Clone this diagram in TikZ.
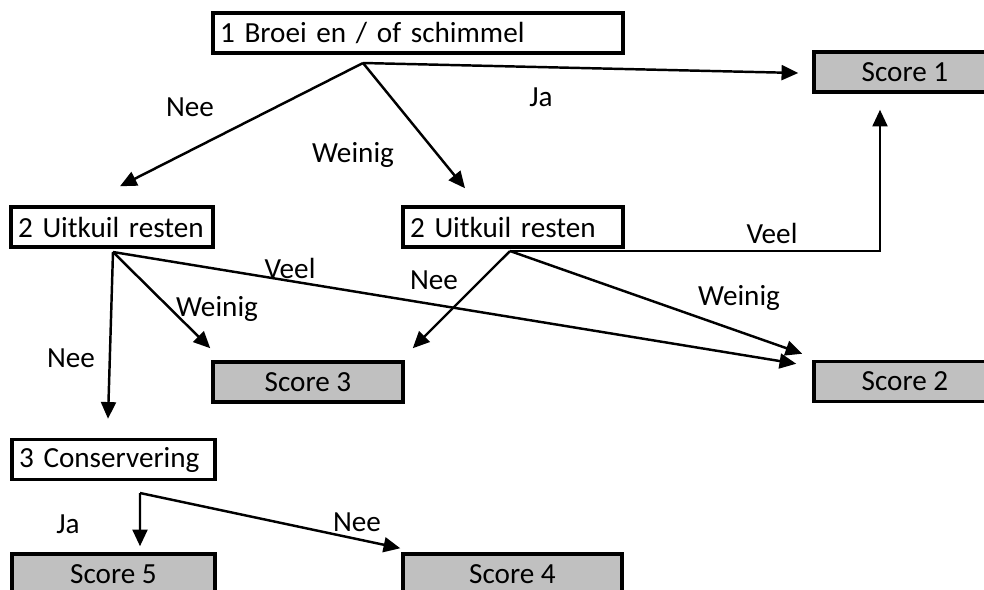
\documentclass[tikz,border=0pt]{standalone}
\usepackage{fontspec}
\setmainfont{Carlito}
\usetikzlibrary{calc,arrows.meta}
\definecolor{scoregray}{RGB}{192,192,192}

\begin{document}
\begin{tikzpicture}[x=0.02cm, y=-0.02cm,
        font=\fontsize{16.6}{19}\selectfont,
        vraag/.style={draw, line width=2pt, fill=white, minimum height=0.8cm,
            inner xsep=0.14cm, text width=#1, align=left},
        score/.style={draw, line width=2pt, fill=scoregray, minimum height=0.8cm,
            minimum width=#1},
        pijl/.style={line width=1.4pt, -{Triangle[length=9.5pt,width=8.5pt]}},
        keuze/.style={inner sep=0pt}]

    \useasboundingbox (0,0) rectangle (984,589);

    % Vragen (witte blokken)
    \node[vraag=7.92cm] (vraag1) at (418,33) {1 Broei en / of schimmel};
    \node[vraag=3.76cm] (vraag2a) at (112,227) {2 Uitkuil resten};
    \node[vraag=4.12cm] (vraag2b) at (513,227) {2 Uitkuil resten};
    \node[vraag=3.78cm] (vraag3) at (113.5,459.5) {3 Conservering};

    % Scores (grijze blokken)
    \node[score=3.64cm] (score1) at (905,72) {Score 1};
    \node[score=3.64cm] (score2) at (905,381.5) {Score 2};
    \node[score=3.8cm] (score3) at (308,382) {Score 3};
    \node[score=4.38cm] (score4) at (512.5,574) {Score 4};
    \node[score=4.06cm] (score5) at (113.5,574) {Score 5};

    % Vertrekpunten onder de vragen
    \coordinate (split1) at (363,63);
    \coordinate (split2) at (113,252);
    \coordinate (split3) at (510,251);
    \coordinate (split4) at (140,493);

    % Pijlpunten vlak voor de doelblokken
    \coordinate (tip1ja) at ($(score1.west)+(-14,1)$);
    \coordinate (tip1nee) at ($(vraag2a.north)+(8,-19)$);
    \coordinate (tip1weinig) at ($(vraag2b.north)+(-48,-17)$);
    \coordinate (tip2nee) at ($(vraag3.north)+(-5.5,-19)$);
    \coordinate (tip2weinig) at ($(score3.north west)+(-1,-12)$);
    \coordinate (tip2veel) at ($(score2.north west)+(-16,4)$);
    \coordinate (tip3veel) at ($(score1.south)+(-25,16)$);
    \coordinate (tip3nee) at ($(score3.north east)+(8,-12)$);
    \coordinate (tip3weinig) at ($(score2.north west)+(-10,-6)$);
    \coordinate (tip4ja) at ($(score5.north)+(26.5,-6)$);
    \coordinate (tip4nee) at ($(score4.north west)+(-1,-4)$);

    \begin{scope}[pijl]
        \draw (split1) -- (tip1ja);
        \draw (split1) -- (tip1nee);
        \draw (split1) -- (tip1weinig);

        \draw (split2) -- (tip2nee);
        \draw (split2) -- (tip2weinig);
        \draw (split2) -- (tip2veel);

        \draw (split3) -- (tip3veel |- split3) -- (tip3veel);
        \draw (split3) -- (tip3nee);
        \draw (split3) -- (tip3weinig);

        \draw (split4) -- (tip4ja);
        \draw (split4) -- (tip4nee);
    \end{scope}

    % Antwoorden bij de pijlen
    \node[keuze] (ja1) at (541,97) {Ja};
    \node[keuze] (nee1) at (190,107) {Nee};
    \node[keuze] (weinig1) at (353,155) {Weinig};
    \node[keuze] (veel3) at (772,233) {Veel};
    \node[keuze] (nee3) at (434,280) {Nee};
    \node[keuze] (weinig3) at (739,298) {Weinig};
    \node[keuze] (veel2) at (290,268) {Veel};
    \node[keuze] (weinig2) at (217,309) {Weinig};
    \node[keuze] (nee2) at (71,358) {Nee};
    \node[keuze] (ja4) at (68,524) {Ja};
    \node[keuze] (nee4) at (357,522) {Nee};

\end{tikzpicture}
\end{document}
